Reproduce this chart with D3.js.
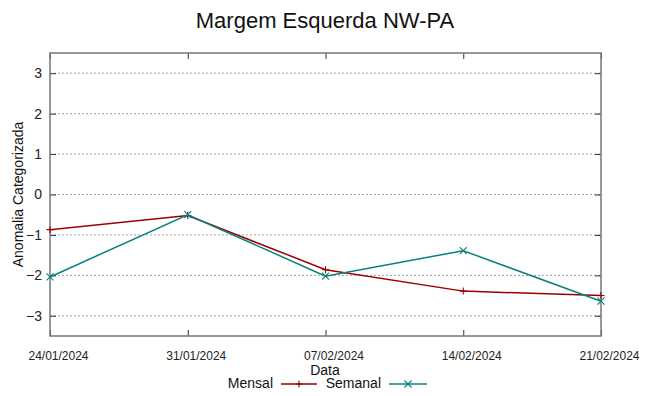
<!DOCTYPE html>
<html><head><meta charset="utf-8">
<script src="https://cdn.jsdelivr.net/npm/d3@7"></script>
<style>body{margin:0;background:#fff}svg{display:block;font-family:"Liberation Sans",Arial,sans-serif}</style>
</head><body><svg id="c" width="649" height="396"></svg>
<script>
const dates = ["24/01/2024","31/01/2024","07/02/2024","14/02/2024","21/02/2024"];
const mensal = [-0.87,-0.52,-1.86,-2.39,-2.5];
const semanal = [-2.04,-0.50,-2.02,-1.39,-2.64];
const yTicks = [-3,-2,-1,0,1,2,3];
const title = "Margem Esquerda NW-PA";

const parse = d3.timeParse("%d/%m/%Y");
const fmt = d3.timeFormat("%d/%m/%Y");
const svg = d3.select("#c");
const L=50,R=601,T=53,B=336;
const x = d3.scaleTime().domain([parse(dates[0]), parse(dates[dates.length-1])]).range([L,R]);
const y = d3.scaleLinear().domain([-3.5,3.5]).range([B,T]);

// grid
svg.append("g").selectAll("line").data(yTicks).join("line")
  .attr("x1",L).attr("x2",R).attr("y1",d=>y(d)).attr("y2",d=>y(d))
  .attr("stroke","#a0a0a0").attr("stroke-width",1).attr("stroke-dasharray","2,2");

// axes
const ax = svg.append("g").attr("transform",`translate(0,${B})`)
  .call(d3.axisBottom(x).tickValues(dates.map(parse)).tickFormat(fmt).tickSize(-6).tickPadding(15));
const ay = svg.append("g").attr("transform",`translate(${L},0)`)
  .call(d3.axisLeft(y).tickValues(yTicks).tickFormat(d3.format("d")).tickSize(-6).tickPadding(8));
const axTop = svg.append("g").attr("transform",`translate(0,${T})`)
  .call(d3.axisTop(x).tickValues(dates.map(parse)).tickFormat("").tickSize(-6));
const ayR = svg.append("g").attr("transform",`translate(${R},0)`)
  .call(d3.axisRight(y).tickValues(yTicks).tickFormat("").tickSize(-6));
[ax,ay,axTop,ayR].forEach(g=>{g.select(".domain").remove();g.selectAll("line").attr("stroke","#333").attr("stroke-width",1)});
ax.selectAll("text").attr("font-size",12).attr("fill","#222").attr("font-family","Liberation Sans").attr("dx",8);
ay.selectAll("text").attr("font-size",14).attr("fill","#222").attr("font-family","Liberation Sans");

// border
svg.append("rect").attr("x",L).attr("y",T).attr("width",R-L).attr("height",B-T)
  .attr("fill","none").attr("stroke","#777").attr("stroke-width",1.5);

const line = d3.line().x((d,i)=>x(parse(dates[i]))).y(d=>y(d));
const series = [{name:"Mensal",vals:mensal,color:"#9b0000",mark:"plus"},{name:"Semanal",vals:semanal,color:"#0a7f7f",mark:"cross"}];
function marker(g,cx,cy,type,color){
  const s=3.5;
  const p = type==="plus" ? `M${cx-s},${cy}H${cx+s}M${cx},${cy-s}V${cy+s}` : `M${cx-s},${cy-s}L${cx+s},${cy+s}M${cx-s},${cy+s}L${cx+s},${cy-s}`;
  g.append("path").attr("d",p).attr("stroke",color).attr("stroke-width",1.1).attr("fill","none");
}
series.forEach(s=>{
  svg.append("path").datum(s.vals).attr("d",line).attr("fill","none").attr("stroke",s.color).attr("stroke-width",1.5);
  const g=svg.append("g");
  s.vals.forEach((v,i)=>marker(g,x(parse(dates[i])),y(v),s.mark,s.color));
});

// titles
svg.append("text").attr("x",325).attr("y",28).attr("text-anchor","middle").attr("font-size",22).attr("fill","#111").text(title);
svg.append("text").attr("x",325).attr("y",375).attr("text-anchor","middle").attr("font-size",14).attr("fill","#111").text("Data");
svg.append("text").attr("transform",`translate(23,${(T+B)/2}) rotate(-90)`).attr("text-anchor","middle").attr("font-size",14).attr("fill","#111").text("Anomalia Categorizada");

// legend
const leg = [{x:273,lx1:281,lx2:317},{x:381,lx1:389,lx2:427}];
series.forEach((s,i)=>{
  const l=leg[i];
  svg.append("text").attr("x",l.x).attr("y",388).attr("text-anchor","end").attr("font-size",14).attr("fill","#111").text(s.name);
  svg.append("line").attr("x1",l.lx1).attr("x2",l.lx2).attr("y1",384).attr("y2",384).attr("stroke",s.color).attr("stroke-width",1.5);
  marker(svg,(l.lx1+l.lx2)/2,384,s.mark,s.color);
});
</script></body></html>
